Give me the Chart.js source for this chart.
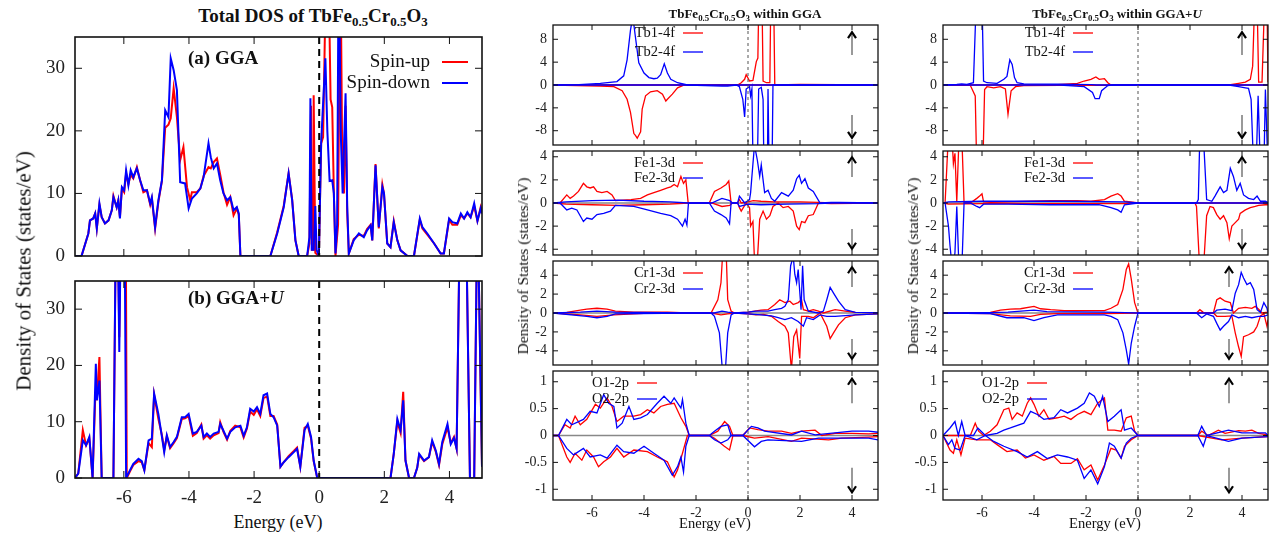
<!DOCTYPE html>
<html>
<head>
<meta charset="utf-8">
<script src="https://cdn.jsdelivr.net/npm/chart.js@4.4.1/dist/chart.umd.min.js"></script>
<style>
body { margin: 0; width: 1278px; height: 538px; background: #fff; position: relative; overflow: hidden;
       font-family: 'Liberation Serif', 'Times New Roman', serif; color: #111; }
canvas { position: absolute; }
.t { position: absolute; white-space: nowrap; transform: translate(-50%, -50%); z-index: 2; }
.l { position: absolute; white-space: nowrap; transform: translate(0, -50%); z-index: 2; font-weight: bold; font-size: 19px; }
.rot { transform: translate(-50%, -50%) rotate(-90deg); }
.b { font-weight: bold; }
sub { font-size: 68%; vertical-align: -0.3em; line-height: 0; }
</style>
</head>
<body>
<div class="t b" style="left:313px;top:16px;font-size:19px">Total DOS of TbFe<sub>0.5</sub>Cr<sub>0.5</sub>O<sub>3</sub></div>
<div class="t b" style="left:745px;top:14px;font-size:13px">TbFe<sub>0.5</sub>Cr<sub>0.5</sub>O<sub>3</sub> within GGA</div>
<div class="t b" style="left:1117px;top:14px;font-size:13px">TbFe<sub>0.5</sub>Cr<sub>0.5</sub>O<sub>3</sub> within GGA+<i>U</i></div>
<div class="l" style="left:188px;top:58px">(a) GGA</div>
<div class="l" style="left:188px;top:298px">(b) GGA+<i>U</i></div>
<div class="t rot" style="left:24px;top:271px;font-size:21px">Density of States (states/eV)</div>
<div class="t rot" style="left:523px;top:266px;font-size:15.5px">Density of States (states/eV)</div>
<div class="t rot" style="left:913px;top:266px;font-size:15.5px">Density of States (states/eV)</div>
<div class="t" style="left:278px;top:522px;font-size:18px">Energy (eV)</div>
<div class="t" style="left:715px;top:523px;font-size:14.5px">Energy (eV)</div>
<div class="t" style="left:1105px;top:523px;font-size:14.5px">Energy (eV)</div>

<script>
// axes
const xTicks = [-6, -4, -2, 0, 2, 4];
const totTicks = [0, 10, 20, 30];
const tbTicks = [-8, -4, 0, 4, 8];
const feTicks = [-4, -2, 0, 2, 4];
const crTicks = [-4, -2, 0, 2, 4];
const oTicks = [-1, -0.5, 0, 0.5, 1];
const spinLabels = ['Spin-up', 'Spin-down'];

// position of the spin arrows (energy)
const arrowGga = [4, 4, 4, 4];
const arrowU = [4, 4, 3.5, 3.5];

// ---- Total DOS, GGA ----
const totGgaUp = [[-7.5,0],[-7.3,0],[-7.09,3.6],[-7.04,5.7],[-6.94,6],[-6.88,6.8],[-6.83,4.4],[-6.75,8.2],[-6.68,6.2],[-6.58,5.2],[-6.47,5.7],[-6.37,7.3],[-6.32,9.6],[-6.22,7.8],[-6.17,8.9],[-6.12,6.2],[-6.06,10.8],[-5.99,10.2],[-5.93,13.2],[-5.86,11.5],[-5.79,13],[-5.71,12.4],[-5.6,14.2],[-5.5,12.1],[-5.4,10.2],[-5.29,10.5],[-5.19,8.2],[-5.14,9.2],[-5.04,4.4],[-4.94,8.6],[-4.83,12],[-4.73,20.5],[-4.63,21],[-4.56,22],[-4.47,26.8],[-4.37,22.2],[-4.27,15.3],[-4.17,17.4],[-4.06,11],[-3.96,8.9],[-3.91,10.2],[-3.76,10.2],[-3.65,10.8],[-3.55,12.8],[-3.4,14.2],[-3.33,14],[-3.24,15],[-3.14,15.6],[-3.04,13],[-2.94,10.2],[-2.83,8.2],[-2.73,9.4],[-2.63,6.5],[-2.53,7.6],[-2.47,6.6],[-2.42,0],[-1.5,0],[-1.29,3.8],[-1.09,8],[-0.94,13.2],[-0.83,9],[-0.73,2.5],[-0.63,0],[-0.37,0],[-0.3,2],[-0.25,24],[-0.22,1],[-0.19,1],[-0.17,25.7],[-0.12,0.5],[-0.01,0],[0.06,18],[0.12,19],[0.19,40],[0.29,45],[0.35,25],[0.4,23.8],[0.45,10],[0.5,0],[0.58,5],[0.65,50],[0.7,20],[0.76,10],[0.81,24],[0.86,7],[0.91,0.4],[1.06,2.7],[1.22,3.4],[1.37,3.2],[1.47,4.3],[1.58,5],[1.63,2.5],[1.73,14.7],[1.83,4.4],[1.94,11.4],[1.99,10],[2.09,2],[2.19,1.4],[2.29,5.6],[2.4,2.5],[2.5,0.9],[2.71,0],[2.91,0],[3.09,5.8],[3.17,4.4],[3.32,3.4],[3.53,2],[3.73,0.4],[3.83,0.4],[3.99,5.8],[4.09,5],[4.24,5],[4.35,6.5],[4.45,6],[4.55,6.8],[4.65,6.2],[4.76,8],[4.86,5.6],[4.96,7.8],[5,7]];
const totGgaDn = [[-7.5,0],[-7.3,0],[-7.09,3.6],[-7.04,5.7],[-6.94,6],[-6.88,6.8],[-6.83,4.4],[-6.75,8.4],[-6.68,6.2],[-6.58,5.2],[-6.47,5.7],[-6.37,7.3],[-6.32,9.4],[-6.22,7.8],[-6.17,8.9],[-6.12,6],[-6.06,11],[-5.99,10.5],[-5.93,13.7],[-5.86,11.3],[-5.79,13.7],[-5.71,12.6],[-5.6,14],[-5.5,12.1],[-5.4,10.5],[-5.29,10.5],[-5.19,8.4],[-5.14,9.4],[-5.04,4.6],[-4.94,8.9],[-4.83,12.1],[-4.73,23.3],[-4.63,22.2],[-4.56,31.6],[-4.47,29.7],[-4.37,26.5],[-4.27,11.8],[-4.12,11.6],[-4.01,7.6],[-3.91,9.2],[-3.76,10],[-3.65,10.8],[-3.55,12.6],[-3.4,18],[-3.33,15.8],[-3.24,14],[-3.14,14.8],[-3.04,12.1],[-2.94,10],[-2.83,8.9],[-2.73,9.4],[-2.63,7.3],[-2.53,7.8],[-2.47,6.8],[-2.42,0],[-1.5,0],[-1.29,3.6],[-1.09,7.8],[-0.94,13.2],[-0.83,8.9],[-0.73,2.5],[-0.63,0],[-0.37,0],[-0.3,3],[-0.27,25.2],[-0.23,1],[-0.17,1],[-0.12,8],[-0.08,1],[-0.01,0],[0.06,18.2],[0.19,31.6],[0.25,20],[0.32,12],[0.4,12.1],[0.45,10],[0.5,0.4],[0.55,5],[0.6,50],[0.66,20],[0.72,10],[0.81,26],[0.86,8],[0.91,0.4],[1.06,2.5],[1.22,3.6],[1.37,3],[1.47,4.1],[1.58,4.9],[1.63,2.5],[1.73,14.5],[1.83,4.6],[1.94,11],[1.99,10],[2.09,2],[2.19,1.4],[2.29,5.4],[2.4,2.5],[2.5,0.9],[2.71,0],[2.91,0],[3.09,6],[3.17,4.6],[3.32,3.6],[3.53,2],[3.73,0.4],[3.83,0.4],[3.99,6],[4.09,5.4],[4.24,5.2],[4.35,6.8],[4.45,6],[4.55,7],[4.65,6.2],[4.76,8.4],[4.86,5.6],[4.96,7.6],[5,6.8]];

// ---- Total DOS, GGA+U ----
const totUUp = [[-7.5,0],[-7.4,0.8],[-7.26,8.5],[-7.16,5.8],[-7.06,7.1],[-6.96,0],[-6.88,14],[-6.83,14],[-6.75,21.5],[-6.68,0],[-6.32,0],[-6.22,60],[-6.14,25],[-6.06,60],[-5.95,60],[-5.91,0],[-5.81,1.2],[-5.71,2.3],[-5.55,3],[-5.45,2.8],[-5.37,1.4],[-5.24,6.2],[-5.14,5.5],[-5.07,14.8],[-4.94,10.5],[-4.83,7.6],[-4.76,5],[-4.68,7.4],[-4.58,5.3],[-4.47,6.2],[-4.37,7.1],[-4.22,10.5],[-4.12,10.6],[-4.01,11],[-3.88,7.5],[-3.76,8],[-3.62,9.5],[-3.55,7],[-3.45,7.6],[-3.35,7],[-3.24,7.6],[-3.09,8],[-3.04,9.9],[-2.94,8.2],[-2.83,6.8],[-2.73,8.4],[-2.58,9.3],[-2.42,9],[-2.32,7.2],[-2.22,8.8],[-2.12,11.8],[-2.01,11.2],[-1.91,12.2],[-1.81,11],[-1.71,14.2],[-1.6,14.5],[-1.5,11],[-1.4,11],[-1.29,9.5],[-1.19,2],[-1.09,2.8],[-0.94,3.9],[-0.78,4.8],[-0.68,5.4],[-0.58,2],[-0.45,8.9],[-0.35,9.3],[-0.25,7],[-0.17,3],[-0.06,0],[2.19,0],[2.29,4.3],[2.4,10],[2.5,8],[2.58,15.3],[2.65,3.1],[2.76,0],[2.91,0],[3.01,1.8],[3.07,4.1],[3.22,3],[3.37,3.7],[3.47,6.4],[3.58,4.7],[3.68,2.3],[3.78,6],[3.94,9],[4.04,6.2],[4.14,7.3],[4.22,5.2],[4.33,50],[4.5,50],[4.63,0],[4.76,0],[4.86,50],[5,2]];
const totUDn = [[-7.5,0],[-7.4,0.8],[-7.26,6.7],[-7.16,5.8],[-7.06,7.3],[-6.96,0],[-6.86,20.3],[-6.83,13.8],[-6.75,17.3],[-6.68,0],[-6.32,0],[-6.22,60],[-6.14,22.4],[-6.06,60],[-5.99,60],[-5.93,0],[-5.81,1.4],[-5.71,2.5],[-5.55,3.4],[-5.45,3],[-5.37,1.4],[-5.24,6.7],[-5.14,7],[-5.07,15],[-4.94,11.4],[-4.83,7.3],[-4.76,4.6],[-4.68,7.6],[-4.58,5.5],[-4.47,6.4],[-4.37,7.3],[-4.22,10.8],[-4.12,10.8],[-4.01,11.4],[-3.88,7.9],[-3.76,8.2],[-3.62,9.3],[-3.55,7.3],[-3.45,7.9],[-3.35,7.3],[-3.24,7.9],[-3.09,8.2],[-3.04,9.6],[-2.94,8.4],[-2.83,7],[-2.73,8.2],[-2.58,9],[-2.42,9.3],[-2.32,7.5],[-2.22,9],[-2.12,12.3],[-2.01,11.8],[-1.91,12.6],[-1.81,11.4],[-1.71,14.7],[-1.6,15],[-1.5,11.4],[-1.4,10.8],[-1.29,9.3],[-1.19,2],[-1.09,2.8],[-0.94,3.7],[-0.78,4.6],[-0.68,5.2],[-0.58,2],[-0.45,8.5],[-0.35,9.6],[-0.25,7.3],[-0.17,3.1],[-0.06,0],[2.19,0],[2.29,4.3],[2.4,10.5],[2.5,8.5],[2.58,13.8],[2.65,3.1],[2.76,0],[2.91,0],[3.01,1.8],[3.07,4.3],[3.22,3.1],[3.37,3.7],[3.47,6.7],[3.58,4.9],[3.68,2.5],[3.78,6.4],[3.94,9.6],[4.04,6],[4.14,7.1],[4.22,5.2],[4.33,50],[4.5,50],[4.63,0],[4.76,0],[4.86,50],[5,2]];

// ---- PDOS within GGA ----
const tb1UpG = [[-7.5,0],[-0.4,0],[-0.26,0.4],[-0.13,1],[-0.07,1.8],[0.06,0.7],[0.19,0.8],[0.32,4.1],[0.38,4.7],[0.45,25],[0.51,25],[0.58,0.7],[0.71,0.4],[0.84,0.4],[0.9,25],[0.96,25],[1.03,0],[2,0.1],[5,0]];
const tb1DnG = [[-7.5,0],[-5.68,-0.2],[-5.16,-0.3],[-4.84,-1],[-4.65,-2.5],[-4.52,-4.8],[-4.39,-8.5],[-4.33,-8.8],[-4.26,-9.3],[-4.2,-8.8],[-4.13,-8.2],[-4.07,-4.2],[-3.94,-1.9],[-3.75,-1.2],[-3.49,-1],[-3.29,-1.6],[-3.16,-2.8],[-3.1,-2.5],[-2.91,-1.6],[-2.71,-0.5],[-2.45,0],[5,0]];
const tb2UpG = [[-7.5,0],[-6.5,0.05],[-5.68,0.3],[-5.04,0.6],[-4.78,1.6],[-4.65,4.4],[-4.52,9.6],[-4.43,12],[-4.33,8.4],[-4.2,3.9],[-4,2.1],[-3.81,1.3],[-3.62,1.1],[-3.49,1.2],[-3.36,1.8],[-3.25,3.3],[-3.22,3.7],[-3.1,2.1],[-2.97,1],[-2.71,0.4],[-2.33,0],[5,0]];
const tb2DnG = [[-7.5,0],[-2.3,0],[-1,-0.2],[-0.78,-0.2],[-0.45,0],[-0.33,-0.3],[-0.2,-2.5],[-0.13,-5.6],[-0.07,-0.7],[0.06,-0.3],[0.1,-1.9],[0.15,-0.7],[0.23,-25],[0.32,-25],[0.41,-0.7],[0.51,-0.4],[0.58,-2.5],[0.64,-25],[0.73,-25],[0.77,-0.7],[0.84,-25],[0.9,-25],[0.96,0],[5,0]];

const fe1UpG = [[-7.5,0],[-7.23,0],[-6.97,0.7],[-6.84,0.4],[-6.71,0.6],[-6.52,1],[-6.33,1.7],[-6.2,1.4],[-6.07,1.3],[-5.94,1.4],[-5.81,1],[-5.62,0.9],[-5.42,1],[-5.23,0.7],[-5.1,0.2],[-4.5,0.3],[-4.13,0.4],[-3.87,0.7],[-3.62,0.9],[-3.36,1.1],[-3.1,1.3],[-2.97,1.4],[-2.84,1.6],[-2.71,1.4],[-2.58,2.3],[-2.48,1.7],[-2.39,2],[-2.3,0],[-1.49,0],[-1.29,1],[-1.04,1.3],[-0.84,1.6],[-0.74,1.9],[-0.65,0],[-0.4,0],[-0.33,0.3],[-0.26,0],[0,0.1],[0.2,0.2],[0.5,0.15],[1,0.1],[1.5,0.1],[2,0.1],[2.7,0.05],[3.2,0],[5,0]];
const fe1DnG = [[-7.5,0],[-7,-0.1],[-6,-0.15],[-5,-0.2],[-4,-0.15],[-3,-0.1],[-2.3,0],[-1.4,0],[-1,-0.3],[-0.7,-0.2],[-0.6,0],[-0.4,0],[-0.33,-0.4],[-0.26,-0.7],[-0.07,0],[0.06,-0.4],[0.1,-2],[0.19,-1.6],[0.25,-5],[0.36,-5],[0.45,-1.4],[0.58,-0.7],[0.71,-1.4],[0.84,-1.1],[0.96,-0.3],[1.16,0],[1.35,-0.4],[1.55,-0.3],[1.74,-0.7],[1.87,-2],[1.97,-2.3],[2.06,-1.6],[2.19,-1.7],[2.32,-1.1],[2.51,-1],[2.71,0],[3.2,-0.05],[5,0]];
const fe2UpG = [[-7.5,0],[-7,0.1],[-6,0.2],[-5,0.25],[-4,0.15],[-3,0.1],[-2.3,0],[-1.4,0],[-1,0.4],[-0.7,0.2],[-0.6,0],[-0.4,0],[-0.33,0.6],[-0.26,0.4],[-0.13,0],[0.06,0.3],[0.1,0.9],[0.19,3.4],[0.25,5],[0.36,3.7],[0.45,2.3],[0.51,3.3],[0.64,0.9],[0.77,1.1],[0.9,0.4],[1.03,0.15],[1.29,0.9],[1.55,0.6],[1.74,1.1],[1.87,2.1],[1.97,2.4],[2.06,1.7],[2.19,2.1],[2.32,1.3],[2.51,1],[2.77,0],[3.2,0.05],[3.5,0.05],[5,0]];
const fe2DnG = [[-7.5,0],[-7.23,0],[-6.97,-0.6],[-6.78,-0.45],[-6.58,-0.6],[-6.33,-1.6],[-6.2,-1.3],[-6,-1.4],[-5.81,-1],[-5.55,-0.9],[-5.29,-0.7],[-5.1,-0.2],[-4.39,-0.3],[-3.87,-0.6],[-3.36,-0.9],[-2.97,-1.1],[-2.71,-1.4],[-2.52,-2],[-2.42,-1.4],[-2.35,-1.9],[-2.29,0],[-1.49,0],[-1.29,-0.7],[-1.04,-1],[-0.84,-1.3],[-0.71,-1.8],[-0.65,0],[-0.4,0],[-0.33,-0.3],[0,-0.1],[0.5,-0.15],[1.5,-0.1],[2.7,-0.05],[3.2,0],[5,0]];

const cr1UpG = [[-7.5,0],[-6.97,0.07],[-6.45,0.3],[-6.2,0.4],[-5.81,0.5],[-5.42,0.4],[-5.1,0.2],[-4.39,0.1],[-3.1,0.1],[-2.33,0],[-1.42,0],[-1.16,1.4],[-1.04,3.2],[-0.97,6.5],[-0.84,6.5],[-0.78,1.4],[-0.65,0.2],[-0.52,0],[0,0.1],[0.25,0.2],[0.5,0.3],[0.77,0.35],[1.03,0.9],[1.22,1.4],[1.42,1.1],[1.61,1.25],[1.74,0.9],[1.93,1.1],[2.06,1.4],[2.13,0.35],[2.32,0.2],[2.51,0.35],[2.71,0.2],[2.9,0],[3.35,0.35],[3.74,0.2],[4.13,0.07],[5,0.05]];
const cr1DnG = [[-7.5,0],[-6.45,-0.2],[-5.81,-0.35],[-5.16,-0.2],[-4,-0.05],[-2.33,0],[-1.42,0],[-1.04,-0.2],[-0.78,-0.1],[-0.52,0],[0,-0.1],[0.3,-0.2],[0.6,-0.15],[0.9,-0.35],[1.16,-0.9],[1.42,-1.4],[1.55,-2.1],[1.67,-6],[1.76,-2.5],[1.87,-1.8],[1.99,-4.8],[2.06,-0.35],[2.32,-0.35],[2.51,-0.5],[2.77,0],[3.03,-1.4],[3.16,-2.7],[3.29,-2.1],[3.48,-1.25],[3.74,-0.5],[4.13,-0.2],[5,-0.1]];
const cr2UpG = [[-7.5,0],[-6.45,0.1],[-5.81,0.2],[-5.1,0.1],[-2.33,0],[-1.3,0],[-1,0.2],[-0.78,0.1],[-0.52,0],[0,0.1],[0.3,0.2],[0.77,0.2],[1.03,0.35],[1.29,0.5],[1.42,0.7],[1.55,1.4],[1.64,5],[1.74,6],[1.8,4.1],[1.87,3.2],[1.93,4.6],[2.04,0.35],[2.1,5],[2.16,1.4],[2.32,0.2],[2.71,0],[2.9,0.2],[3.03,1.4],[3.16,2.7],[3.29,2.1],[3.48,1.25],[3.74,0.35],[4.13,0.07],[5,0.05]];
const cr2DnG = [[-7.5,0],[-6.2,-0.35],[-5.81,-0.5],[-5.42,-0.35],[-5.1,-0.1],[-2.33,0],[-1.42,0],[-1.29,-0.35],[-1.1,-2.1],[-0.97,-6.5],[-0.88,-6.5],[-0.78,-2.1],[-0.65,-0.2],[-0.52,0],[0,-0.1],[0.5,-0.2],[0.9,-0.3],[1.16,-0.5],[1.42,-0.7],[1.67,-0.5],[1.93,-0.9],[2.13,-1.4],[2.25,-0.5],[2.51,-0.7],[2.77,-0.2],[3.03,-0.35],[3.35,-0.35],[4.13,-0.2],[5,-0.1]];

const o1UpG = [[-7.5,0],[-7.29,0],[-7.04,0.2],[-6.84,0.14],[-6.65,0.36],[-6.45,0.2],[-6.2,0.3],[-5.87,0.58],[-5.68,0.51],[-5.42,0.7],[-5.23,0.54],[-5.04,0.26],[-4.78,0.36],[-4.39,0.36],[-4.13,0.39],[-3.87,0.48],[-3.62,0.42],[-3.36,0.54],[-3.1,0.58],[-2.84,0.6],[-2.58,0.33],[-2.39,0.17],[-2.26,0],[-1.49,0],[-1.16,0.08],[-0.9,0.26],[-0.71,0.17],[-0.58,0],[-0.2,0],[0.06,0.14],[0.38,0.11],[0.77,0.08],[1.29,0.08],[1.67,0.04],[2.06,0.08],[2.58,0.1],[2.84,0],[3.35,0.04],[4,0.04],[4.64,0.03],[5,0.04]];
const o1DnG = [[-7.5,0],[-7.29,0],[-6.97,-0.4],[-6.84,-0.5],[-6.65,-0.33],[-6.39,-0.46],[-6.2,-0.27],[-5.94,-0.4],[-5.75,-0.58],[-5.55,-0.49],[-5.29,-0.4],[-5.04,-0.24],[-4.78,-0.4],[-4.39,-0.27],[-3.87,-0.3],[-3.49,-0.4],[-3.1,-0.49],[-2.84,-0.77],[-2.71,-0.64],[-2.52,-0.33],[-2.33,0],[-1.49,0],[-1.29,-0.05],[-0.91,-0.2],[-0.71,-0.27],[-0.58,0],[-0.2,0],[0.25,-0.05],[0.77,-0.02],[1.67,-0.11],[2.06,-0.05],[3.1,-0.08],[3.61,-0.05],[4.64,-0.03],[5,-0.02]];
const o2UpG = [[-7.5,0],[-7.29,0],[-6.97,0.3],[-6.78,0.2],[-6.33,0.3],[-6.07,0.45],[-5.81,0.42],[-5.55,0.76],[-5.36,0.6],[-5.16,0.54],[-5.04,0.14],[-4.84,0.23],[-4.58,0.54],[-4.39,0.3],[-4.13,0.33],[-3.87,0.39],[-3.49,0.6],[-3.23,0.73],[-2.97,0.6],[-2.84,0.7],[-2.58,0.51],[-2.52,0.67],[-2.39,0.23],[-2.26,0],[-1.49,0],[-1.29,0.08],[-1.04,0.17],[-0.78,0.2],[-0.65,0],[-0.2,0],[0.13,0.17],[0.38,0.14],[0.64,0.08],[1.67,0.01],[2.06,0.08],[2.58,0.01],[4,0.08],[4.64,0.08],[5,0.06]];
const o2DnG = [[-7.5,0],[-7.29,0],[-6.97,-0.24],[-6.71,-0.36],[-6.33,-0.24],[-6.07,-0.4],[-5.68,-0.36],[-5.42,-0.42],[-5.04,-0.18],[-4.78,-0.3],[-4.39,-0.33],[-4,-0.2],[-3.62,-0.33],[-3.23,-0.46],[-2.91,-0.74],[-2.71,-0.58],[-2.58,-0.4],[-2.48,-0.68],[-2.39,-0.2],[-2.26,0],[-1.49,0],[-1.29,-0.08],[-1.04,-0.14],[-0.78,-0.08],[-0.65,0],[-0.2,0],[0.25,-0.21],[0.51,-0.11],[0.77,-0.08],[2.06,-0.11],[2.71,-0.05],[4.64,-0.05],[5,-0.08]];

// ---- PDOS within GGA+U ----
const tb1UpU = [[-7.5,0],[-3.1,0.05],[-2.33,0.3],[-2.07,0.7],[-1.81,1],[-1.62,1.4],[-1.49,1],[-1.29,1.1],[-1.16,0.4],[-1.04,0],[3.5,0],[3.87,0.3],[4.13,0.5],[4.32,1],[4.41,3.3],[4.49,15],[4.58,15],[4.64,0.5],[4.77,0.5],[4.87,15],[4.96,15],[5,0.5]];
const tb1DnU = [[-7.5,0],[-6.45,-0.05],[-6.26,-1.9],[-6.2,-15],[-5.97,-15],[-5.9,-0.8],[-5.81,-0.3],[-5.55,-0.5],[-5.29,-0.3],[-5.1,-0.7],[-5,-5.1],[-4.88,-1],[-4.71,-0.3],[-4.39,-0.1],[-3,-0.05],[5,0]];
const tb2UpU = [[-7.5,0],[-6.97,0.1],[-6.78,0.2],[-6.58,0.1],[-6.33,0.4],[-6.22,15],[-6,15],[-5.94,0.7],[-5.81,0.4],[-5.42,0.3],[-5.16,1],[-5.04,1.5],[-4.93,4.4],[-4.84,3.6],[-4.75,1.3],[-4.65,0.4],[-4.39,0.2],[-3.1,0.15],[-1.8,0.05],[-1.6,0],[5,0]];
const tb2DnU = [[-7.5,0],[-3,0],[-2.07,-0.3],[-1.75,-1.3],[-1.65,-2.4],[-1.49,-2.4],[-1.4,-1],[-1.16,-0.1],[-1,0],[3.5,0],[3.87,-0.3],[4.13,-0.5],[4.25,-0.6],[4.35,-2.5],[4.45,-15],[4.54,-15],[4.62,-1.9],[4.71,-15],[4.84,-15],[4.9,-0.8],[5,-15]];

const fe1UpU = [[-7.5,0],[-7.42,0],[-7.29,6],[-7.16,6],[-7.1,3.4],[-7.04,4.3],[-6.97,0.1],[-6.88,6],[-6.78,6],[-6.69,0],[-6.45,0],[-6.2,0.4],[-6.09,0.6],[-6,0.8],[-5.94,0.1],[-5.68,0.05],[-4.13,0.15],[-3.36,0.2],[-2.33,0.2],[-1.81,0.15],[-1.29,0.3],[-1.04,0.6],[-0.78,0.8],[-0.65,0.6],[-0.52,0.15],[-0.13,0.05],[0,0],[5,0]];
const fe1DnU = [[-7.5,0],[-7.29,-0.1],[-5.94,-0.05],[-0.5,-0.05],[0,0],[2.19,0],[2.25,-0.3],[2.38,-6],[2.51,-6],[2.64,-1.1],[2.77,-0.3],[2.9,-0.4],[3.03,-1],[3.16,-1.4],[3.29,-1.1],[3.42,-1.7],[3.51,-3.1],[3.61,-2],[3.74,-1.7],[3.87,-1.4],[3.93,-0.9],[4.13,-0.6],[4.32,-0.4],[4.51,-0.3],[4.64,-0.2],[4.9,-0.15],[5,-0.15]];
const fe2UpU = [[-7.5,0],[-7.29,0.1],[-6,0.15],[-3,0.15],[-0.5,0.1],[0,0],[2.25,0],[2.32,0.3],[2.38,6],[2.51,6],[2.64,0.3],[2.84,0.15],[2.96,0.6],[3.16,1.4],[3.29,0.9],[3.42,1.1],[3.55,3],[3.67,2.3],[3.8,1.1],[3.93,1.7],[4.06,0.7],[4.25,0.4],[4.45,0.3],[4.58,0.6],[4.71,0.15],[4.9,0.15],[5,0.05]];
const fe2DnU = [[-7.5,0],[-7.42,0],[-7.29,-2],[-7.23,-3.7],[-7.13,-6],[-7.04,-4.3],[-6.97,-0.3],[-6.88,-6],[-6.78,-6],[-6.69,0],[-6.45,0],[-6.2,-0.3],[-6.09,-0.4],[-5.94,-0.1],[-5,-0.1],[-3.4,-0.15],[-2.5,-0.15],[-1.5,-0.15],[-1.04,-0.4],[-0.78,-0.6],[-0.65,-0.8],[-0.52,-0.15],[0,0],[5,0]];

const cr1UpU = [[-7.5,0],[-6,0.05],[-5.68,0.07],[-5.29,0.3],[-4.91,0.4],[-4.52,0.45],[-4,0.7],[-3.75,0.45],[-3.36,0.35],[-2.84,0.25],[-1.81,0.25],[-1.29,0.25],[-1.04,0.5],[-0.78,0.9],[-0.58,2.5],[-0.45,4.6],[-0.36,5.2],[-0.26,3.6],[-0.13,1.1],[0,0],[2.25,0],[2.38,0.35],[2.51,0.07],[2.9,0],[3.03,1.4],[3.16,1.6],[3.35,1.25],[3.55,1.1],[3.67,0],[3.87,0.5],[4.13,0.6],[4.38,0.5],[4.51,0.7],[4.64,0.4],[4.77,0],[5,0.1]];
const cr1DnU = [[-7.5,0],[-5.68,-0.07],[-4.91,-0.3],[-4.13,-0.35],[-3.75,-0.15],[-3.1,-0.07],[-1.29,-0.07],[0,0],[2.9,0],[3.03,-0.35],[3.35,-0.35],[3.61,-0.3],[3.74,-2.1],[3.87,-3.6],[3.97,-4.6],[4.06,-2.5],[4.25,-2.3],[4.45,-2],[4.58,-1.4],[4.71,-0.3],[4.84,-0.07],[4.96,-1.4],[5,-0.7]];
const cr2UpU = [[-7.5,0],[-5.68,0.05],[-5,0.1],[-4,0.3],[-3.5,0.15],[-1.29,0.1],[-0.5,0.05],[0,0],[2.9,0],[3.03,0.3],[3.35,0.4],[3.61,0.25],[3.74,2.1],[3.87,3],[3.97,4.3],[4.06,3.7],[4.19,3],[4.32,3.2],[4.45,2.5],[4.58,0.35],[4.71,0.07],[4.84,1.1],[4.96,0.5],[5,0]];
const cr2DnU = [[-7.5,0],[-5.68,-0.07],[-5.04,-0.5],[-4.39,-0.5],[-4,-0.8],[-3.62,-0.5],[-3.1,-0.2],[-1.29,-0.2],[-1.04,-0.35],[-0.78,-0.7],[-0.58,-2.1],[-0.45,-3.9],[-0.36,-5.4],[-0.26,-3.2],[-0.13,-1.4],[0,0],[2.25,0],[2.45,-0.5],[2.64,-0.1],[2.9,-0.35],[3.03,-1.1],[3.16,-1.8],[3.29,-1.4],[3.48,-0.9],[3.61,-0.2],[3.87,-0.5],[4.13,-0.35],[4.38,-0.5],[4.64,-0.35],[4.84,-0.35],[5,-0.2]];

const o1UpU = [[-7.5,0],[-6.45,0],[-6.26,0.23],[-6.13,0.08],[-5.94,0],[-5.68,0.08],[-5.42,0.2],[-5.16,0.48],[-4.97,0.51],[-4.84,0.3],[-4.65,0.42],[-4.45,0.36],[-4.26,0.6],[-4.13,0.7],[-4,0.58],[-3.81,0.36],[-3.62,0.48],[-3.42,0.3],[-3.1,0.33],[-2.84,0.36],[-2.58,0.3],[-2.33,0.39],[-2.07,0.45],[-1.81,0.39],[-1.55,0.6],[-1.29,0.7],[-1.16,0.1],[-0.91,0.1],[-0.65,0.08],[-0.45,0.33],[-0.26,0.36],[-0.13,0.08],[0,0],[2.3,0],[2.45,0.08],[2.7,0],[3.09,0.1],[3.35,0.04],[3.87,0.09],[4.13,0.08],[4.38,0.1],[4.64,0.04],[5,0.01]];
const o1DnU = [[-7.5,0],[-7.23,-0.27],[-7.1,-0.33],[-6.97,-0.08],[-6.81,-0.36],[-6.65,-0.05],[-6.2,-0.08],[-5.68,-0.08],[-5.42,-0.17],[-5.04,-0.3],[-4.65,-0.27],[-4.33,-0.42],[-4,-0.36],[-3.62,-0.46],[-3.23,-0.39],[-2.97,-0.52],[-2.58,-0.52],[-2.33,-0.43],[-2.07,-0.64],[-1.81,-0.55],[-1.55,-0.83],[-1.29,-0.55],[-1.04,-0.24],[-0.84,-0.27],[-0.65,-0.42],[-0.52,-0.2],[-0.26,-0.08],[0,0],[2.3,0],[3.22,-0.08],[4,-0.05],[4.64,-0.03],[5,-0.02]];
const o2UpU = [[-7.5,0],[-7.23,0.14],[-7.04,0.26],[-6.91,0],[-6.78,0.26],[-6.65,0],[-6.33,0],[-6.16,0.14],[-5.87,0],[-5.42,0.04],[-5.16,0.1],[-4.91,0.14],[-4.39,0.23],[-4.13,0.45],[-3.87,0.39],[-3.62,0.3],[-3.23,0.33],[-2.97,0.48],[-2.71,0.42],[-2.33,0.51],[-2.07,0.6],[-1.87,0.79],[-1.68,0.73],[-1.49,0.54],[-1.36,0.73],[-1.16,0.26],[-0.91,0.36],[-0.65,0.48],[-0.52,0.1],[-0.26,0.14],[0,0],[2.3,0],[2.45,0.17],[2.64,0],[3.48,0.1],[4,0.05],[4.9,0.05],[5,0]];
const o2DnU = [[-7.5,0],[-7.29,-0.17],[-7.16,-0.08],[-7.04,-0.24],[-6.84,-0.27],[-6.65,0],[-6.2,-0.08],[-5.87,0],[-5.55,-0.11],[-5.16,-0.2],[-4.65,-0.3],[-4.26,-0.4],[-3.87,-0.3],[-3.49,-0.43],[-3.1,-0.36],[-2.71,-0.4],[-2.33,-0.46],[-2.07,-0.8],[-1.81,-0.64],[-1.55,-0.9],[-1.29,-0.58],[-1.1,-0.14],[-0.91,-0.2],[-0.65,-0.42],[-0.45,-0.14],[-0.26,-0.05],[0,0],[2.3,0],[2.51,-0.2],[2.64,0],[3.48,-0.11],[4,-0.05],[4.64,-0.03],[5,-0.02]];

const RED = 'rgb(255,0,0)', BLUE = 'rgb(0,0,255)';
const SERIF = "'Liberation Serif', 'Times New Roman', serif";
Chart.defaults.font.family = SERIF;

// border, inward ticks, Fermi level, zero line, spin arrows and key
const framePlugin = {
    id: 'frame',
    beforeDatasetsDraw(chart, args, o) {
        if (!o.zero) return;
        const { ctx, chartArea: c, scales: { y } } = chart;
        const py = y.getPixelForValue(0);
        ctx.save();
        ctx.strokeStyle = '#888';
        ctx.lineWidth = 1.5;
        ctx.beginPath(); ctx.moveTo(c.left, py); ctx.lineTo(c.right, py); ctx.stroke();
        ctx.restore();
    },
    afterDatasetsDraw(chart, args, o) {
        const { ctx, chartArea: c, scales: { x, y } } = chart;
        ctx.save();
        const px = x.getPixelForValue(0);
        ctx.strokeStyle = o.fermiColor;
        ctx.lineWidth = o.fermiWidth;
        ctx.setLineDash(o.dash);
        ctx.beginPath(); ctx.moveTo(px, c.top); ctx.lineTo(px, c.bottom); ctx.stroke();
        ctx.setLineDash([]);

        ctx.strokeStyle = '#111';
        ctx.lineWidth = 1;
        ctx.beginPath();
        x.ticks.forEach(t => {
            const p = x.getPixelForValue(t.value);
            ctx.moveTo(p, c.bottom); ctx.lineTo(p, c.bottom - o.tick);
            ctx.moveTo(p, c.top); ctx.lineTo(p, c.top + o.tick);
        });
        y.ticks.forEach(t => {
            const p = y.getPixelForValue(t.value);
            ctx.moveTo(c.left, p); ctx.lineTo(c.left + o.tick, p);
            ctx.moveTo(c.right, p); ctx.lineTo(c.right - o.tick, p);
        });
        ctx.stroke();
        ctx.lineWidth = o.border;
        ctx.strokeRect(c.left, c.top, c.right - c.left, c.bottom - c.top);

        if (o.arrow !== undefined) {
            const ax = x.getPixelForValue(o.arrow), h = c.bottom - c.top;
            [[0.25, 0.06], [0.75, 0.94]].forEach(([f0, f1]) => {
                const y0 = c.top + f0 * h, y1 = c.top + f1 * h, s = Math.sign(y1 - y0);
                ctx.strokeStyle = '#555'; ctx.lineWidth = 1.2;
                ctx.beginPath(); ctx.moveTo(ax, y0); ctx.lineTo(ax, y1); ctx.stroke();
                ctx.strokeStyle = '#000'; ctx.lineWidth = 2.2;
                ctx.beginPath(); ctx.moveTo(ax - 4, y1 - s * 6); ctx.lineTo(ax, y1); ctx.lineTo(ax + 4, y1 - s * 6); ctx.stroke();
            });
        }

        const k = o.key;
        if (k) {
            ctx.font = k.size + 'px ' + SERIF;
            ctx.textAlign = 'right';
            ctx.textBaseline = 'middle';
            k.names.forEach((name, i) => {
                const ry = c.top + k.rows[i];
                ctx.fillStyle = '#111';
                ctx.fillText(name, c.left + k.textX, ry);
                ctx.strokeStyle = k.colors[i]; ctx.lineWidth = k.lw;
                ctx.beginPath(); ctx.moveTo(c.left + k.line[0], ry); ctx.lineTo(c.left + k.line[1], ry); ctx.stroke();
            });
        }
        ctx.restore();
    }
};

function panel(p) {
    const cv = document.createElement('canvas');
    cv.width = p.padL + p.w + p.padR;
    cv.height = p.padT + p.h + p.padB;
    cv.style.left = (p.x - p.padL) + 'px';
    cv.style.top = (p.y - p.padT) + 'px';
    document.body.insertBefore(cv, document.body.firstChild);
    const font = { family: SERIF, size: p.font };
    new Chart(cv, {
        type: 'line',
        data: {
            // dataset 0 is painted last, so blue goes first to sit on top
            datasets: p.series.map(s => ({
                data: s.data.map(d => ({ x: d[0], y: d[1] })),
                borderColor: s.color,
                borderWidth: p.lw,
                pointRadius: 0,
                tension: 0,
                fill: false,
                clip: 0
            }))
        },
        options: {
            responsive: false,
            animation: false,
            events: [],
            layout: { padding: { left: 0, right: p.padR, top: p.padT, bottom: 0 } },
            plugins: {
                legend: { display: false },
                tooltip: { enabled: false },
                frame: p.frame
            },
            scales: {
                x: {
                    type: 'linear', min: -7.5, max: 5,
                    afterBuildTicks: s => { s.ticks = xTicks.map(v => ({ value: v })); },
                    afterFit: s => { s.height = p.padB; s.paddingLeft = s.paddingRight = 0; },
                    grid: { display: false, drawTicks: false },
                    border: { display: false },
                    ticks: { display: p.showX, font, color: '#222', padding: p.xPad, callback: v => String(v), maxRotation: 0 }
                },
                y: {
                    type: 'linear', min: p.yMin, max: p.yMax,
                    afterBuildTicks: s => { s.ticks = p.yTicks.map(v => ({ value: v })); },
                    afterFit: s => { s.width = p.padL; s.paddingTop = s.paddingBottom = 0; },
                    grid: { display: false, drawTicks: false },
                    border: { display: false },
                    ticks: { font, color: '#222', padding: p.yPad, callback: v => String(v) }
                }
            }
        },
        plugins: [framePlugin]
    });
}

// ---- left column: total DOS ----
const totFrame = { fermiColor: '#000', fermiWidth: 2, dash: [7, 5], tick: 7, border: 1.6 };
panel({ x: 75, y: 37, w: 407, h: 219, padL: 45, padR: 8, padT: 6, padB: 8, font: 19, lw: 2, showX: false, xPad: 9, yPad: 10,
        yMin: 0, yMax: 35, yTicks: totTicks,
        series: [{ data: totGgaDn, color: BLUE }, { data: totGgaUp, color: RED }],
        frame: Object.assign({ key: { names: spinLabels, colors: [RED, BLUE], rows: [25, 46], textX: 355, line: [367, 393], size: 19, lw: 2 } }, totFrame) });
panel({ x: 75, y: 281, w: 407, h: 197, padL: 45, padR: 8, padT: 6, padB: 32, font: 19, lw: 2, showX: true, xPad: 9, yPad: 10,
        yMin: 0, yMax: 35, yTicks: totTicks,
        series: [{ data: totUDn, color: BLUE }, { data: totUUp, color: RED }],
        frame: totFrame });

// ---- PDOS columns ----
const rows = [
    { y: 25, h: 120, min: -10.5, max: 10.5, ticks: tbTicks, names: ['Tb1-4f', 'Tb2-4f'], keyRows: [8, 27], keyX: 122 },
    { y: 151, h: 104, min: -4.5, max: 4.5, ticks: feTicks, names: ['Fe1-3d', 'Fe2-3d'], keyRows: [12, 27], keyX: 122 },
    { y: 261, h: 104, min: -5.5, max: 5.5, ticks: crTicks, names: ['Cr1-3d', 'Cr2-3d'], keyRows: [12, 28], keyX: 122 },
    { y: 371, h: 129, min: -1.2, max: 1.2, ticks: oTicks, names: ['O1-2p', 'O2-2p'], keyRows: [12, 28], keyX: 76 }
];
const ggaSeries = [[tb1UpG, tb1DnG, tb2UpG, tb2DnG], [fe1UpG, fe1DnG, fe2UpG, fe2DnG], [cr1UpG, cr1DnG, cr2UpG, cr2DnG], [o1UpG, o1DnG, o2UpG, o2DnG]];
const uSeries = [[tb1UpU, tb1DnU, tb2UpU, tb2DnU], [fe1UpU, fe1DnU, fe2UpU, fe2DnU], [cr1UpU, cr1DnU, cr2UpU, cr2DnU], [o1UpU, o1DnU, o2UpU, o2DnU]];

[[553, ggaSeries, arrowGga], [943, uSeries, arrowU]].forEach(([left, sets, arrows]) => {
    rows.forEach((r, i) => {
        const last = i === rows.length - 1;
        const s = sets[i];
        panel({ x: left, y: r.y, w: 325, h: r.h, padL: 35, padR: 5, padT: 3, padB: last ? 26 : 3, font: 14, lw: 1.3,
                showX: last, xPad: 5, yPad: 6, yMin: r.min, yMax: r.max, yTicks: r.ticks,
                series: [{ data: s[2], color: BLUE }, { data: s[3], color: BLUE }, { data: s[0], color: RED }, { data: s[1], color: RED }],
                frame: { zero: true, fermiColor: '#555', fermiWidth: 1, dash: [3, 3], tick: 5, border: 1.3, arrow: arrows[i],
                         key: { names: r.names, colors: [RED, BLUE], rows: r.keyRows, textX: r.keyX, line: [r.keyX + 8, r.keyX + 28], size: 14.5, lw: 1.3 } } });
    });
});
</script>
</body>
</html>
